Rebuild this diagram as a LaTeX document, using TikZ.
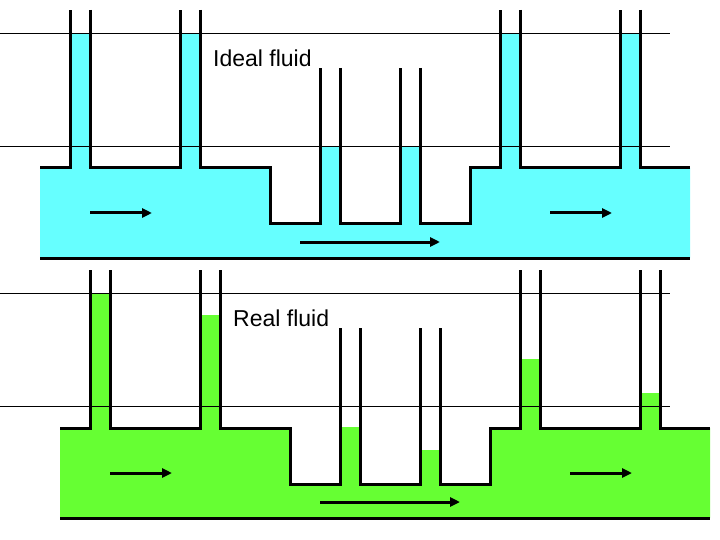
\documentclass[tikz,border=0pt]{standalone}
\usepackage{fontspec}
\setmainfont{Liberation Sans}
\usetikzlibrary{arrows.meta}
\definecolor{ideal}{HTML}{66FFFF}
\definecolor{real}{HTML}{66FF33}
\tikzset{wall/.style={line width=3pt,line join=miter},
 ref/.style={line width=0.6pt},
 flow/.style={line width=3pt,-{Triangle[length=10pt,width=9pt]}}}
% #1 colour, #2 label, #3..#8 levels, #9 x shift of reference lines
\newcommand\pipediagram[9]{%
 \fill[#1] (40,168) -- (270,168) -- (270,224) -- (470,224) -- (470,168) -- (690,168) -- (690,258) -- (40,258) -- cycle;
 \fill[#1] (70,#3) rectangle (90,169);
 \fill[#1] (180,#4) rectangle (200,169);
 \fill[#1] (320,#5) rectangle (340,225);
 \fill[#1] (400,#6) rectangle (420,225);
 \fill[#1] (500,#7) rectangle (520,169);
 \fill[#1] (620,#8) rectangle (640,169);
 \draw[ref] (#9,33) -- (670+#9,33);
 \draw[ref] (#9,146) -- (670+#9,146);
 \draw[wall] (40,168) -- (70,168) -- (70,10);
 \draw[wall] (90,10) -- (90,168) -- (180,168) -- (180,10);
 \draw[wall] (200,10) -- (200,168) -- (270,168) -- (270,224) -- (320,224) -- (320,68);
 \draw[wall] (340,68) -- (340,224) -- (400,224) -- (400,68);
 \draw[wall] (420,68) -- (420,224) -- (470,224) -- (470,168) -- (500,168) -- (500,10);
 \draw[wall] (520,10) -- (520,168) -- (620,168) -- (620,10);
 \draw[wall] (640,10) -- (640,168) -- (690,168);
 \draw[wall] (40,258) -- (690,258);
 \draw[flow] (90,213) -- (152,213);
 \draw[flow] (300,242) -- (440,242);
 \draw[flow] (550,213) -- (612,213);
 \node[anchor=west,inner sep=0pt,font=\fontsize{23}{26}\selectfont] at (213,58) {#2};
}
\begin{document}
\begin{tikzpicture}[x=1pt,y=-1pt]
\useasboundingbox (0,0) rectangle (720,540);
\begin{scope}
\pipediagram{ideal}{Ideal fluid}{33}{33}{146}{146}{33}{33}{0}
\end{scope}
\begin{scope}[shift={(20,260)}]
\pipediagram{real}{Real fluid}{33}{55}{167}{190}{99}{133}{-20}
\end{scope}
\end{tikzpicture}
\end{document}
